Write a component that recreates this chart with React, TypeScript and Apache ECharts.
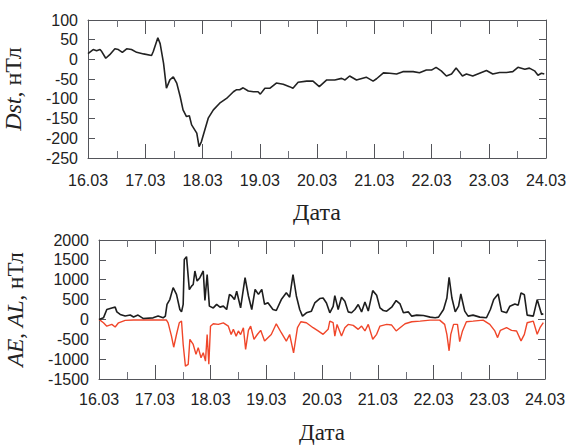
import React, { useEffect, useRef } from "react";
import * as echarts from "echarts";

const dateLabels = ["16.03", "17.03", "18.03", "19.03", "20.03", "21.03", "22.03", "23.03", "24.03"];
const halfDayTicks = [0.5, 1.5, 2.5, 3.5, 4.5, 5.5, 6.5, 7.5];

const dstDays = [0, 0.09, 0.15, 0.21, 0.24, 0.31, 0.38, 0.47, 0.53, 0.6, 0.675, 0.76, 0.85, 0.97, 1.11, 1.14, 1.22, 1.26, 1.32, 1.37, 1.43, 1.49, 1.55, 1.61, 1.66, 1.72, 1.77, 1.81, 1.9, 1.94, 1.98, 2.04, 2.1, 2.19, 2.3, 2.42, 2.54, 2.59, 2.65, 2.71, 2.8, 2.89, 2.97, 3.01, 3.09, 3.18, 3.29, 3.41, 3.52, 3.58, 3.67, 3.82, 3.93, 4.04, 4.17, 4.31, 4.43, 4.49, 4.57, 4.69, 4.86, 4.98, 5.04, 5.16, 5.27, 5.39, 5.5, 5.68, 5.79, 5.91, 6.0, 6.08, 6.17, 6.26, 6.35, 6.43, 6.54, 6.61, 6.72, 6.84, 6.96, 7.07, 7.19, 7.31, 7.42, 7.51, 7.63, 7.71, 7.8, 7.86, 7.92, 7.97];
const dstValues = [15, 25, 22, 25, 20, 3, 12, 27, 25, 18, 27, 25, 18, 14, 10, 20, 55, 40, -10, -73, -52, -44, -60, -94, -128, -145, -143, -166, -187, -221, -209, -179, -149, -128, -111, -99, -82, -77, -77, -72, -80, -82, -82, -88, -73, -73, -60, -63, -69, -73, -58, -55, -55, -69, -52, -52, -48, -52, -42, -52, -45, -55, -49, -34, -35, -37, -31, -31, -34, -27, -27, -20, -29, -42, -37, -22, -42, -37, -42, -35, -28, -37, -33, -33, -31, -20, -25, -22, -29, -40, -35, -37];

const aeDays = [0, 0.08, 0.14, 0.23, 0.29, 0.32, 0.38, 0.47, 0.56, 0.62, 0.7, 0.79, 0.97, 1.06, 1.15, 1.19, 1.22, 1.27, 1.33, 1.39, 1.45, 1.48, 1.51, 1.53, 1.57, 1.62, 1.66, 1.69, 1.72, 1.76, 1.81, 1.87, 1.9, 1.94, 1.98, 2.05, 2.11, 2.17, 2.23, 2.29, 2.34, 2.38, 2.43, 2.47, 2.54, 2.62, 2.68, 2.74, 2.8, 2.86, 2.92, 2.97, 3.03, 3.12, 3.18, 3.27, 3.36, 3.42, 3.48, 3.54, 3.6, 3.65, 3.72, 3.81, 3.87, 3.96, 4.02, 4.08, 4.14, 4.2, 4.23, 4.29, 4.35, 4.41, 4.47, 4.53, 4.59, 4.65, 4.71, 4.77, 4.83, 4.91, 4.98, 5.04, 5.1, 5.16, 5.25, 5.33, 5.4, 5.46, 5.55, 5.61, 5.7, 5.82, 5.94, 6.03, 6.09, 6.18, 6.24, 6.28, 6.33, 6.39, 6.45, 6.49, 6.56, 6.62, 6.71, 6.83, 6.95, 7.02, 7.08, 7.16, 7.22, 7.31, 7.37, 7.46, 7.52, 7.57, 7.63, 7.68, 7.79, 7.86, 7.94, 7.97];
const aeValues = [0, 40, 250, 290, 310, 190, 125, 85, 110, 60, 110, 25, 40, 85, 40, 85, 380, 500, 800, 630, 250, 190, 380, 1510, 1580, 750, 840, 880, 1220, 965, 1050, 1220, 480, 1130, 335, 290, 380, 310, 335, 250, 630, 590, 500, 710, 290, 1050, 590, 250, 755, 630, 755, 380, 420, 250, 225, 500, 670, 560, 1130, 590, 250, 83, 167, 208, 415, 525, 540, 415, 167, 330, 600, 250, 560, 460, 190, 167, 250, 375, 190, 440, 210, 725, 608, 290, 225, 208, 308, 475, 390, 167, 190, 83, 108, 100, 58, 42, 58, 250, 540, 1058, 540, 190, 333, 640, 208, 83, 108, 58, 42, 250, 500, 640, 208, 167, 333, 390, 360, 670, 620, 108, 83, 500, 125, 140];

const alDays = [0, 0.08, 0.14, 0.23, 0.29, 0.35, 0.47, 0.62, 1.21, 1.24, 1.3, 1.34, 1.39, 1.44, 1.48, 1.51, 1.55, 1.6, 1.63, 1.69, 1.74, 1.78, 1.83, 1.87, 1.91, 1.94, 1.97, 2.0, 2.05, 2.14, 2.23, 2.32, 2.37, 2.41, 2.46, 2.5, 2.54, 2.59, 2.63, 2.68, 2.72, 2.78, 2.84, 2.9, 2.97, 3.03, 3.09, 3.18, 3.27, 3.36, 3.42, 3.49, 3.56, 3.62, 3.72, 3.84, 3.93, 4.02, 4.11, 4.14, 4.2, 4.23, 4.27, 4.35, 4.41, 4.47, 4.56, 4.65, 4.71, 4.77, 4.83, 4.91, 4.98, 5.04, 5.16, 5.25, 5.33, 5.4, 5.49, 5.61, 5.76, 5.94, 6.11, 6.2, 6.24, 6.28, 6.31, 6.36, 6.43, 6.47, 6.52, 6.59, 6.71, 6.89, 7.01, 7.1, 7.15, 7.2, 7.31, 7.4, 7.49, 7.57, 7.63, 7.68, 7.79, 7.86, 7.91, 7.97];
const alValues = [0, -85, -170, -125, -190, -85, -25, -15, -15, -85, -420, -700, -380, -85, -40, -630, -1175, -1130, -500, -630, -880, -710, -965, -840, -1050, -380, -1130, -170, -110, -125, -85, -170, -380, -250, -420, -290, -380, -210, -755, -275, -170, -500, -380, -275, -545, -460, -380, -110, -335, -545, -380, -840, -208, -58, -83, -208, -290, -375, -250, -42, -83, -420, -125, -420, -208, -125, -150, -250, -167, -290, -125, -500, -375, -167, -125, -142, -290, -208, -108, -58, -42, -17, -17, -125, -375, -790, -375, -125, -125, -558, -290, -58, -42, -17, -125, -290, -458, -275, -208, -275, -290, -540, -375, -83, -42, -375, -208, -83];

const pairs = (xs: number[], ys: number[]) => xs.map((x, i) => [x, ys[i]]);

const TICK_COLOR = "#6E7079";
const LABEL_COLOR = "#222";
const SANS = "'Liberation Sans', Arial, sans-serif";
const SERIF = "'Liberation Serif', 'Times New Roman', serif";

function halfDayTickSeries(yMin: number) {
  return {
    type: "custom",
    silent: true,
    data: halfDayTicks.map((d) => [d, yMin]),
    renderItem: (params: any, api: any) => {
      const cs = params.coordSys;
      const x = Math.round(api.coord([api.value(0), yMin])[0]) + 0.5;
      const bottom = cs.y + cs.height;
      return {
        type: "group",
        children: [
          { type: "line", shape: { x1: x, y1: bottom, x2: x, y2: bottom - 7 }, style: { stroke: TICK_COLOR, lineWidth: 1 } },
          { type: "line", shape: { x1: x, y1: cs.y, x2: x, y2: cs.y + 7 }, style: { stroke: TICK_COLOR, lineWidth: 1 } },
        ],
      };
    },
  };
}

function buildOption(cfg: {
  grid: any;
  yMin: number;
  yMax: number;
  yInterval: number;
  yName: string;
  yNameGap: number;
  nameSize: number;
  xLabelMargin: number;
  xNameGap: number;
  series: any[];
}) {
  const xCommon = {
    type: "value",
    min: 0,
    max: 8,
    interval: 1,
    axisLine: { show: true, onZero: false },
    axisTick: { show: true, inside: true, length: 14 },
    splitLine: { show: false },
  };
  const yCommon = {
    type: "value",
    min: cfg.yMin,
    max: cfg.yMax,
    interval: cfg.yInterval,
    axisLine: { show: true, onZero: false },
    axisTick: { show: true, inside: true, length: 7 },
    splitLine: { show: false },
  };
  return {
    animation: false,
    grid: { ...cfg.grid, containLabel: false, outerBoundsMode: "none" },
    xAxis: [
      {
        ...xCommon,
        position: "bottom",
        axisLabel: {
          show: true,
          margin: cfg.xLabelMargin,
          color: LABEL_COLOR,
          fontFamily: SANS,
          fontSize: 16,
          formatter: (v: number) => dateLabels[Math.round(v)] ?? "",
        },
        name: "Дата",
        nameLocation: "middle",
        nameGap: cfg.xNameGap,
        nameTextStyle: { fontFamily: SERIF, fontSize: cfg.nameSize, color: LABEL_COLOR },
      },
      { ...xCommon, position: "top", axisLabel: { show: false } },
    ],
    yAxis: [
      {
        ...yCommon,
        position: "left",
        axisLabel: {
          show: true,
          margin: 10,
          color: LABEL_COLOR,
          fontFamily: SANS,
          fontSize: 16,
          formatter: (v: number) => String(v),
        },
        name: cfg.yName,
        nameLocation: "middle",
        nameRotate: 90,
        nameGap: cfg.yNameGap,
        nameTextStyle: {
          fontFamily: SERIF,
          fontSize: cfg.nameSize,
          color: LABEL_COLOR,
          rich: {
            i: { fontFamily: SERIF, fontSize: cfg.nameSize, fontStyle: "italic", color: LABEL_COLOR },
            n: { fontFamily: SERIF, fontSize: cfg.nameSize, color: LABEL_COLOR },
          },
        },
      },
      { ...yCommon, position: "right", axisLabel: { show: false } },
    ],
    series: [halfDayTickSeries(cfg.yMin), ...cfg.series],
  };
}

function ChartBox({ option }: { option: any }) {
  const ref = useRef<HTMLDivElement>(null);
  useEffect(() => {
    if (!ref.current) return;
    const chart = echarts.init(ref.current, null, { renderer: "svg" });
    chart.setOption(option);
    return () => chart.dispose();
  }, [option]);
  return <div ref={ref} style={{ position: "absolute", left: 0, top: 0, width: 568, height: 446 }} />;
}

const dstOption = buildOption({
  grid: { left: 88, top: 20, width: 458, height: 138 },
  yMin: -250,
  yMax: 100,
  yInterval: 50,
  yName: "{i|Dst}{n|, нТл}",
  yNameGap: 63,
  nameSize: 24,
  xLabelMargin: 14,
  xNameGap: 42,
  series: [
    {
      type: "line",
      name: "Dst",
      data: pairs(dstDays, dstValues),
      showSymbol: false,
      lineStyle: { color: "#222", width: 1.6 },
    },
  ],
});

const aeOption = buildOption({
  grid: { left: 99, top: 240, width: 446, height: 139 },
  yMin: -1500,
  yMax: 2000,
  yInterval: 500,
  yName: "{i|AE}{n|, }{i|AL}{n|, нТл}",
  yNameGap: 72,
  nameSize: 23,
  xLabelMargin: 12,
  xNameGap: 42,
  series: [
    {
      type: "line",
      name: "AL",
      data: pairs(alDays, alValues),
      showSymbol: false,
      lineStyle: { color: "#f0462a", width: 1.4 },
    },
    {
      type: "line",
      name: "AE",
      data: pairs(aeDays, aeValues),
      showSymbol: false,
      lineStyle: { color: "#1e1e1e", width: 1.6 },
    },
  ],
});

export default function App() {
  return (
    <div style={{ position: "absolute", left: 0, top: 0, width: 568, height: 446, background: "#fff" }}>
      <ChartBox option={dstOption} />
      <ChartBox option={aeOption} />
    </div>
  );
}
